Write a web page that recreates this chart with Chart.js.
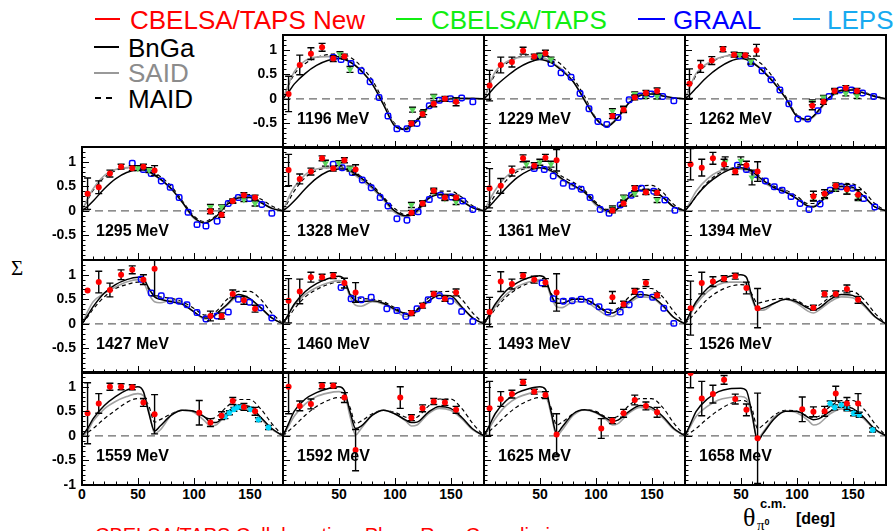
<!DOCTYPE html>
<html><head><meta charset="utf-8">
<script src="https://cdn.jsdelivr.net/npm/chart.js@4/dist/chart.umd.min.js"></script>
<style>
html,body{margin:0;padding:0;background:#fff;width:896px;height:531px;overflow:hidden;position:relative;font-family:"Liberation Sans",Arial,sans-serif}
canvas{position:absolute}
.t{position:absolute;white-space:nowrap;line-height:1}
.ln{position:absolute;height:0}
.xl{position:absolute;width:40px;text-align:center;white-space:nowrap;line-height:1;font-weight:bold;font-size:14px;color:#000}
</style></head><body>
<div class="ln" style="left:95px;top:18px;width:25px;border-top:2.5px solid #ff0000"></div>
<div class="t" style="left:130px;top:7px;font-size:26px;color:#ff0000">CBELSA/TAPS New</div>
<div class="ln" style="left:396px;top:18px;width:26px;border-top:2.5px solid #11ee11"></div>
<div class="t" style="left:431px;top:7px;font-size:26px;color:#11ee11">CBELSA/TAPS</div>
<div class="ln" style="left:638px;top:18px;width:27px;border-top:2.5px solid #0000ff"></div>
<div class="t" style="left:673px;top:7px;font-size:26px;color:#0000ff">GRAAL</div>
<div class="ln" style="left:793px;top:18px;width:27px;border-top:2.5px solid #18aaf0"></div>
<div class="t" style="left:827px;top:7px;font-size:26px;color:#18aaf0">LEPS</div>
<div class="ln" style="left:94px;top:46px;width:25px;border-top:2.5px solid #000"></div>
<div class="t" style="left:128px;top:35px;font-size:26px;color:#000">BnGa</div>
<div class="ln" style="left:94px;top:72px;width:25px;border-top:2.5px solid #999"></div>
<div class="t" style="left:128px;top:60px;font-size:26px;color:#8c8c8c">SAID</div>
<div class="ln" style="left:95px;top:97px;width:6px;border-top:2.5px solid #000"></div>
<div class="ln" style="left:106px;top:97px;width:6px;border-top:2.5px solid #000"></div>
<div class="t" style="left:128px;top:86px;font-size:26px;color:#000">MAID</div>
<div class="t" style="left:11px;top:258px;font-size:21px;font-family:'Liberation Serif',serif">Σ</div>
<div class="t" style="left:743px;top:505px;font-size:26px;font-family:'Liberation Serif',serif">θ</div>
<div class="t" style="left:760px;top:497px;font-size:13px;font-weight:bold">c.m.</div>
<div class="t" style="left:757px;top:518px;font-size:15px;font-family:'Liberation Serif',serif">π<span style="font-size:9px;font-weight:bold;font-family:'Liberation Sans';vertical-align:5px">0</span></div>
<div class="t" style="left:796px;top:511px;font-size:16px;font-weight:bold">[deg]</div>
<div style="position:absolute;left:95px;top:525px;width:600px;height:6px;overflow:hidden"><div class="t" style="left:0;top:0;font-size:20px;color:#ff0000">CBELSA/TAPS Collaboration, Phys. Rev. C, preliminary</div></div>
<script>
const energies = [1196,1229,1262,1295,1328,1361,1394,1427,1460,1493,1526,1559,1592,1625,1658];
const curveAngles = [0,5,10,20,30,40,50,55,60,65,70,80,90,100,110,115,120,130,140,150,160,170,180];
const bnga = [
 [0,0.14,0.3,0.52,0.68,0.78,0.82,0.8,0.75,0.67,0.57,0.3,-0.12,-0.55,-0.62,-0.55,-0.45,-0.17,-0.05,0,0.01,0.01,0],
 [0,0.12,0.25,0.45,0.62,0.74,0.8,0.78,0.74,0.66,0.57,0.35,-0.03,-0.4,-0.57,-0.5,-0.38,-0.08,0.07,0.1,0.06,0.02,0],
 [0,0.1,0.22,0.45,0.63,0.76,0.82,0.8,0.74,0.66,0.56,0.32,0.02,-0.35,-0.42,-0.35,-0.22,0.04,0.17,0.18,0.12,0.05,0],
 [0,0.09,0.2,0.45,0.65,0.78,0.83,0.83,0.8,0.73,0.65,0.45,0.17,-0.13,-0.25,-0.2,-0.12,0.13,0.26,0.27,0.17,0.05,0],
 [0,0.09,0.2,0.45,0.66,0.8,0.85,0.85,0.82,0.75,0.67,0.48,0.25,0,-0.1,-0.08,0,0.25,0.33,0.32,0.2,0.06,0],
 [0,0.1,0.22,0.47,0.68,0.82,0.88,0.86,0.82,0.74,0.65,0.52,0.38,0.15,0,-0.02,0.05,0.28,0.42,0.42,0.28,0.08,0],
 [0,0.14,0.3,0.55,0.72,0.84,0.88,0.85,0.8,0.71,0.62,0.47,0.38,0.25,0.1,0.08,0.15,0.38,0.5,0.48,0.3,0.08,0],
 [0,0.17,0.35,0.63,0.8,0.9,0.95,0.92,0.72,0.55,0.5,0.45,0.4,0.25,0.12,0.12,0.2,0.4,0.6,0.52,0.33,0.12,0],
 [0,0.2,0.4,0.66,0.82,0.92,0.97,0.9,0.6,0.47,0.45,0.47,0.42,0.3,0.2,0.18,0.28,0.46,0.58,0.57,0.35,0.12,0],
 [0,0.2,0.4,0.68,0.84,0.94,0.98,0.92,0.6,0.42,0.42,0.5,0.5,0.38,0.24,0.22,0.28,0.46,0.6,0.56,0.38,0.13,0],
 [0,0.24,0.45,0.72,0.87,0.97,1.0,0.95,0.55,0.3,0.32,0.42,0.5,0.45,0.32,0.28,0.32,0.5,0.6,0.58,0.4,0.15,0],
 [0,0.15,0.35,0.62,0.8,0.93,1.0,0.9,0.45,0.1,0.2,0.42,0.52,0.5,0.38,0.28,0.27,0.48,0.62,0.6,0.38,0.15,0],
 [0,0.25,0.5,0.75,0.88,0.96,1.0,0.92,0.5,0.15,0.2,0.42,0.52,0.45,0.32,0.27,0.28,0.48,0.6,0.56,0.38,0.14,0],
 [0,0.22,0.45,0.72,0.88,0.96,1.0,0.95,0.5,0.05,0.18,0.45,0.53,0.48,0.35,0.3,0.32,0.5,0.62,0.58,0.4,0.15,0],
 [0,0.25,0.5,0.75,0.9,0.96,0.97,0.92,0.45,-0.1,0.05,0.35,0.5,0.5,0.38,0.33,0.35,0.5,0.6,0.56,0.38,0.14,0]
];
const said = [
 [0,0.3,0.55,0.78,0.85,0.86,0.86,0.82,0.76,0.68,0.58,0.3,-0.1,-0.53,-0.63,-0.56,-0.45,-0.17,-0.04,0,0.01,0.01,0],
 [0,0.3,0.55,0.75,0.84,0.86,0.86,0.82,0.76,0.68,0.6,0.35,0,-0.4,-0.55,-0.48,-0.38,-0.08,0.08,0.1,0.06,0.02,0],
 [0,0.28,0.52,0.72,0.83,0.88,0.88,0.83,0.76,0.67,0.57,0.33,0.02,-0.35,-0.44,-0.37,-0.25,0.03,0.16,0.19,0.13,0.05,0],
 [0,0.25,0.45,0.72,0.84,0.88,0.88,0.85,0.8,0.72,0.64,0.44,0.17,-0.15,-0.24,-0.2,-0.12,0.14,0.28,0.29,0.18,0.06,0],
 [0,0.27,0.48,0.74,0.85,0.88,0.88,0.85,0.8,0.72,0.63,0.45,0.22,-0.03,-0.12,-0.09,-0.03,0.24,0.35,0.34,0.22,0.07,0],
 [0,0.22,0.42,0.7,0.84,0.88,0.88,0.85,0.8,0.72,0.63,0.5,0.37,0.12,-0.02,-0.01,0.05,0.3,0.42,0.42,0.28,0.08,0],
 [0,0.2,0.4,0.65,0.8,0.85,0.85,0.81,0.75,0.66,0.58,0.46,0.4,0.26,0.1,0.1,0.15,0.36,0.47,0.45,0.3,0.08,0],
 [0,0.25,0.45,0.62,0.75,0.85,0.9,0.85,0.6,0.45,0.43,0.48,0.42,0.25,0.1,0.12,0.18,0.38,0.55,0.5,0.33,0.12,0],
 [0,0.2,0.38,0.6,0.74,0.83,0.88,0.85,0.55,0.38,0.36,0.45,0.4,0.28,0.15,0.17,0.25,0.45,0.58,0.52,0.33,0.12,0],
 [0,0.18,0.35,0.6,0.76,0.85,0.9,0.86,0.55,0.35,0.33,0.45,0.45,0.32,0.17,0.15,0.22,0.42,0.55,0.53,0.36,0.13,0],
 [0,0.2,0.4,0.65,0.8,0.85,0.85,0.82,0.5,0.28,0.28,0.42,0.5,0.42,0.26,0.22,0.28,0.45,0.55,0.53,0.37,0.14,0],
 [0,0.1,0.3,0.55,0.7,0.8,0.86,0.82,0.5,0.05,0.12,0.42,0.52,0.48,0.3,0.2,0.22,0.45,0.57,0.55,0.35,0.13,0],
 [0,0.2,0.4,0.65,0.8,0.87,0.9,0.85,0.4,0.02,0.15,0.42,0.52,0.45,0.3,0.2,0.22,0.45,0.56,0.52,0.35,0.12,0],
 [0,0.17,0.35,0.62,0.78,0.86,0.9,0.86,0.45,0,0.12,0.42,0.53,0.47,0.32,0.22,0.25,0.47,0.58,0.54,0.37,0.13,0],
 [0,0.2,0.4,0.6,0.73,0.78,0.8,0.76,0.4,-0.05,0.08,0.38,0.5,0.47,0.32,0.22,0.25,0.45,0.55,0.5,0.35,0.12,0]
];
const maid = [
 [0,0.28,0.5,0.72,0.84,0.9,0.92,0.9,0.85,0.77,0.66,0.38,-0.05,-0.5,-0.6,-0.52,-0.42,-0.17,-0.04,0.01,0.01,0.01,0],
 [0,0.27,0.5,0.72,0.84,0.9,0.9,0.88,0.84,0.77,0.68,0.42,0.05,-0.38,-0.55,-0.48,-0.38,-0.07,0.09,0.12,0.07,0.02,0],
 [0,0.26,0.48,0.7,0.82,0.89,0.92,0.9,0.85,0.77,0.68,0.4,0.05,-0.32,-0.42,-0.35,-0.24,0.05,0.18,0.2,0.14,0.06,0],
 [0,0.22,0.42,0.68,0.82,0.88,0.9,0.88,0.85,0.78,0.7,0.5,0.2,-0.1,-0.22,-0.17,-0.1,0.17,0.3,0.33,0.24,0.1,0],
 [0,0.2,0.4,0.68,0.82,0.88,0.9,0.88,0.85,0.78,0.7,0.52,0.28,0.05,-0.08,-0.05,0.03,0.28,0.4,0.4,0.28,0.1,0],
 [0,0.15,0.32,0.62,0.8,0.88,0.9,0.88,0.85,0.78,0.7,0.58,0.42,0.18,0.03,0.03,0.08,0.34,0.5,0.52,0.38,0.13,0],
 [0,0.14,0.3,0.58,0.76,0.86,0.9,0.87,0.82,0.74,0.65,0.5,0.42,0.3,0.15,0.15,0.2,0.42,0.56,0.55,0.4,0.15,0],
 [0,0.14,0.3,0.55,0.72,0.8,0.85,0.82,0.7,0.58,0.55,0.52,0.45,0.32,0.18,0.2,0.25,0.5,0.66,0.66,0.5,0.22,0],
 [0,0.14,0.3,0.55,0.7,0.8,0.85,0.82,0.62,0.55,0.52,0.5,0.45,0.33,0.22,0.24,0.3,0.52,0.65,0.66,0.5,0.22,0],
 [0,0.14,0.3,0.55,0.72,0.83,0.88,0.85,0.62,0.52,0.5,0.52,0.5,0.4,0.28,0.28,0.32,0.55,0.72,0.72,0.55,0.25,0],
 [0,0.12,0.25,0.5,0.66,0.76,0.8,0.78,0.6,0.42,0.45,0.5,0.52,0.48,0.35,0.34,0.38,0.55,0.67,0.66,0.5,0.22,0],
 [0,0.07,0.15,0.35,0.52,0.68,0.76,0.76,0.6,0.28,0.33,0.45,0.52,0.5,0.38,0.35,0.38,0.6,0.74,0.74,0.55,0.25,0],
 [0,0.1,0.2,0.42,0.6,0.72,0.78,0.76,0.58,0.25,0.3,0.45,0.52,0.48,0.38,0.36,0.38,0.6,0.75,0.75,0.56,0.25,0],
 [0,0.1,0.2,0.42,0.6,0.72,0.78,0.76,0.58,0.22,0.28,0.45,0.53,0.5,0.38,0.37,0.4,0.62,0.76,0.76,0.58,0.26,0],
 [0,0.07,0.15,0.35,0.52,0.65,0.72,0.7,0.55,0.15,0.22,0.42,0.52,0.5,0.4,0.38,0.4,0.6,0.72,0.72,0.55,0.25,0]
];
// [angle, Sigma, error]
const newData = [
 [[5,0.1,0.36],[15,0.69,0.2],[25,0.92,0.12],[35,1.05,0.08],[45,0.82,0.06],[55,0.86,0.05],[115,-0.5,0.05],[125,-0.31,0.06],[135,-0.1,0.06],[145,0.0,0.05],[155,-0.06,0.08]],
 [[5,0.27,0.31],[15,0.69,0.16],[25,0.75,0.1],[35,0.98,0.07],[45,0.86,0.05],[55,0.93,0.06],[115,-0.35,0.05],[125,-0.22,0.06],[135,0.03,0.05],[145,0.12,0.05],[155,0.16,0.06]],
 [[4,0.31,0.3],[14,0.66,0.12],[24,0.78,0.08],[34,1.01,0.05],[44,0.9,0.05],[54,0.89,0.04],[64,0.99,0.12],[114,-0.14,0.08],[124,-0.06,0.05],[134,0.16,0.05],[144,0.22,0.05],[154,0.16,0.05]],
 [[5,0.35,0.32],[15,0.48,0.13],[25,0.76,0.07],[35,0.9,0.05],[45,0.87,0.05],[55,0.9,0.05],[65,0.82,0.1],[115,-0.01,0.05],[125,-0.08,0.05],[135,0.2,0.04],[145,0.32,0.05],[155,0.27,0.05]],
 [[5,0.83,0.32],[15,0.65,0.1],[25,0.8,0.07],[35,1.07,0.05],[45,0.86,0.05],[55,1.03,0.05],[65,0.84,0.1],[115,-0.04,0.05],[125,0.15,0.05],[135,0.41,0.05],[145,0.27,0.05],[155,0.27,0.05]],
 [[5,0.46,0.4],[15,0.51,0.15],[25,0.81,0.1],[35,1.07,0.07],[45,0.92,0.06],[55,1.08,0.07],[65,1.03,0.22],[115,0.01,0.05],[125,0.15,0.05],[135,0.46,0.05],[145,0.38,0.05],[155,0.37,0.05]],
 [[5,0.95,0.32],[15,0.88,0.17],[25,1.07,0.12],[35,0.95,0.1],[45,0.8,0.06],[55,0.93,0.08],[65,0.8,0.2],[115,0.3,0.1],[125,0.35,0.08],[135,0.51,0.06],[145,0.44,0.1],[155,0.33,0.1]],
 [[5,0.68,0],[15,0.85,0.22],[25,0.69,0.14],[35,1.0,0.1],[45,1.1,0.08],[55,0.9,0.1],[65,1.12,0.55],[115,0.16,0.1],[125,0.16,0.06],[135,0.61,0.08],[145,0.48,0.08],[155,0.31,0.07]],
 [[5,0.47,0.45],[15,0.66,0.25],[25,0.95,0.1],[35,0.95,0.06],[45,0.98,0.06],[55,0.83,0.1],[65,0.64,0.2],[115,0.22,0.05],[125,0.37,0.05],[135,0.61,0.05],[145,0.51,0.05],[155,0.64,0.07]],
 [[5,0.24,0.3],[15,0.86,0.2],[25,0.81,0.1],[35,0.98,0.06],[45,0.9,0.07],[55,0.84,0.08],[65,0.64,0.38],[115,0.54,0.12],[125,0.4,0.06],[135,0.66,0.06],[145,0.83,0.07],[155,0.58,0.05]],
 [[5,0.32,0.55],[15,0.83,0.22],[25,0.86,0.1],[35,0.92,0.06],[45,0.97,0.06],[55,0.73,0.12],[65,0.32,0.4],[115,0.33,0.05],[125,0.61,0.06],[135,0.61,0.06],[145,0.71,0.08],[155,0.49,0.07]],
 [[5,0.46,0.62],[15,0.66,0.2],[25,1.0,0.07],[35,1.0,0.06],[45,0.99,0.05],[55,0.68,0.08],[65,0.44,0.4],[105,0.47,0.25],[115,0.27,0.08],[125,0.41,0.08],[135,0.71,0.07],[145,0.59,0.07],[155,0.5,0.08]],
 [[5,1.0,0.55],[15,0.61,0.1],[25,0.65,0.1],[35,1.02,0.06],[45,1.02,0.05],[55,0.78,0.1],[65,-0.29,0.42],[105,0.78,0.22],[115,0.37,0.06],[125,0.56,0.07],[135,0.7,0.06],[145,0.68,0.06],[155,0.53,0.07]],
 [[5,0.56,0.55],[15,0.75,0.15],[25,0.85,0.08],[35,1.09,0.06],[45,0.9,0.05],[55,0.83,0.07],[65,0.03,0.42],[105,0.15,0.2],[115,0.31,0.06],[125,0.46,0.08],[135,0.73,0.1],[145,0.61,0.08],[155,0.48,0.1]],
 [[5,1.28,0.3],[15,0.76,0.35],[25,0.85,0.18],[35,1.14,0.09],[45,0.75,0.1],[55,0.53,0.12],[65,-0.05,0.92],[105,0.54,0.25],[115,0.49,0.1],[125,0.5,0.1],[135,0.86,0.15],[145,0.66,0.12],[155,0.66,0.2]]
];
const oldData = [
 [[51,0.91,0.05],[60,0.6,0.06],[116,-0.22,0.05],[126,-0.27,0.05],[135,0.05,0.04],[155,-0.03,0.05]],
 [[50,0.88,0.05],[60,0.8,0.05],[115,-0.25,0.05],[125,-0.2,0.05],[135,0.1,0.04],[145,0.06,0.05],[155,0.05,0.05]],
 [[49,0.9,0.04],[59,0.76,0.05],[114,-0.07,0.05],[124,0.03,0.04],[134,0.15,0.04],[144,0.11,0.05],[154,0.06,0.05]],
 [[50,0.87,0.05],[60,0.83,0.05],[115,0.08,0.05],[125,0.08,0.04],[135,0.2,0.04],[145,0.23,0.04],[155,0.15,0.05]],
 [[38,0.97,0.06],[50,0.97,0.05],[60,0.86,0.05],[115,0.12,0.05],[125,0.16,0.04],[135,0.39,0.04],[145,0.25,0.04],[155,0.18,0.05]],
 [[38,0.95,0.06],[50,0.99,0.06],[60,0.95,0.06],[115,0.05,0.05],[125,0.27,0.05],[135,0.35,0.05],[145,0.39,0.05],[155,0.22,0.05]],
 [[36,1.0,0.1],[50,1.02,0.08],[60,0.68,0.15],[115,0.27,0.06],[125,0.31,0.06],[135,0.46,0.06],[145,0.4,0.06],[155,0.27,0.06]],
 [],[],[],[],[],[],[],[]
];
const graal = [
 [[45,0.84],[52,0.8],[61,0.72],[70,0.57],[78,0.35],[86,0.03],[94,-0.35],[102,-0.61],[111,-0.61],[120,-0.5],[131,-0.14],[140,-0.03],[150,0.0],[160,0.02],[170,-0.06]],
 [[50,0.87],[60,0.72],[69,0.53],[78,0.44],[86,0.11],[94,-0.2],[102,-0.46],[110,-0.52],[120,-0.38],[130,-0.02],[140,0.06],[150,0.1],[160,0.05],[170,-0.04]],
 [[49,0.88],[59,0.72],[69,0.57],[77,0.39],[85,0.18],[93,-0.1],[101,-0.41],[110,-0.41],[119,-0.24],[129,0.05],[139,0.18],[149,0.18],[159,0.12],[169,0.05]],
 [[45,0.97],[55,0.84],[62,0.76],[71,0.61],[79,0.48],[87,0.27],[95,-0.03],[103,-0.28],[111,-0.31],[121,-0.21],[131,0.15],[140,0.27],[150,0.25],[161,0.13],[170,-0.05]],
 [[45,0.95],[53,0.88],[62,0.78],[71,0.63],[79,0.47],[87,0.27],[94,0.1],[102,-0.16],[111,-0.19],[121,-0.02],[131,0.23],[141,0.32],[151,0.28],[161,0.2],[170,0.03]],
 [[45,0.86],[54,0.84],[62,0.71],[71,0.56],[79,0.5],[87,0.44],[95,0.27],[104,0.03],[112,-0.05],[122,0.12],[132,0.32],[141,0.46],[152,0.4],[162,0.22],[171,0.01]],
 [[47,0.93],[55,0.84],[63,0.74],[72,0.61],[80,0.49],[87,0.42],[95,0.29],[103,0.15],[111,0.03],[121,0.14],[130,0.42],[140,0.49],[150,0.46],[160,0.25],[170,0.08]],
 [[53,0.91],[62,0.63],[71,0.57],[79,0.47],[87,0.46],[94,0.39],[103,0.23],[111,0.1],[121,0.16],[131,0.24],[140,0.5],[150,0.44],[160,0.33],[170,0.12]],
 [[52,0.74],[61,0.51],[70,0.49],[79,0.54],[93,0.31],[102,0.27],[110,0.15],[120,0.31],[130,0.49],[140,0.57],[150,0.46],[160,0.25],[170,0.05]],
 [[52,0.83],[62,0.51],[71,0.46],[79,0.47],[87,0.5],[95,0.46],[103,0.35],[111,0.24],[122,0.24],[130,0.39],[140,0.6],[151,0.54],[161,0.32],[170,0.01]],
 [],[],[],[],[]
];
const leps = [
 [],[],[],[],[],[],[],[],[],[],[],
 [[128,0.39,0.04],[132,0.47,0.04],[136,0.54,0.04],[139,0.58,0.04],[143,0.59,0.04],[151,0.54,0.04],[158,0.33,0.04],[167,0.17,0.04]],
 [],[],
 [[130,0.66,0.05],[134,0.58,0.05],[140,0.63,0.05],[145,0.56,0.05],[151,0.46,0.05],[156,0.43,0.05],[168,0.12,0.04]]
];
const yTickValues = [1,0.5,0,-0.5,-1];
const yTickLabels = ['1','0.5','0','-0.5','-1'];
const xTickValues = [0,50,100,150];
const xTickLabels = ['0','50','100','150'];

const colLeft = [82,283,484,685], rowTop = [35,147,260,372], PW = 201, PH = 113;

const framePlugin = {
  id:'frame',
  beforeDatasetDraw(chart,args){
    const ds = chart.data.datasets[args.index];
    if(!ds.errs) return;
    const {ctx, chartArea:a, scales:{x,y}} = chart;
    ctx.save(); ctx.beginPath(); ctx.rect(a.left,a.top,a.right-a.left,a.bottom-a.top); ctx.clip();
    ctx.strokeStyle = '#000'; ctx.lineWidth = 1.4;
    ds.data.forEach((p,i)=>{
      const e = ds.errs[i]; if(!e) return;
      const px = x.getPixelForValue(p.x), y1 = y.getPixelForValue(p.y+e), y2 = y.getPixelForValue(p.y-e);
      ctx.beginPath(); ctx.moveTo(px,y1); ctx.lineTo(px,y2);
      ctx.moveTo(px-3.5,y1); ctx.lineTo(px+3.5,y1); ctx.moveTo(px-3.5,y2); ctx.lineTo(px+3.5,y2); ctx.stroke();
    });
    ctx.restore();
  },
  afterDraw(chart){
    const o = chart.options.plugins.frame;
    const {ctx, chartArea:a, scales:{x,y}} = chart;
    ctx.save();
    ctx.strokeStyle='#000'; ctx.lineWidth=1;
    for(let k=-10;k<=13;k++){
      const py = Math.round(y.getPixelForValue(k/10))+0.5;
      const L = (k%5===0)?7:3.5;
      ctx.beginPath(); ctx.moveTo(a.left,py); ctx.lineTo(a.left+L,py); ctx.stroke();
    }
    for(let d=0; d<=180; d+=10){
      const px = Math.round(x.getPixelForValue(d))+0.5;
      const L = (d%50===0)?7:3.5;
      ctx.beginPath(); ctx.moveTo(px,a.bottom); ctx.lineTo(px,a.bottom-L); ctx.stroke();
    }
    ctx.lineWidth=2;
    ctx.strokeRect(a.left,a.top,a.right-a.left,a.bottom-a.top);
    ctx.fillStyle='#000';
    ctx.font='bold 16px "Liberation Sans", Arial, sans-serif';
    ctx.textBaseline='middle'; ctx.textAlign='left';
    ctx.fillText(o.label, a.left+14, y.getPixelForValue(-0.42));
    ctx.font='bold 14px "Liberation Sans", Arial, sans-serif';
    if(o.yl){
      ctx.textAlign='right';
      yTickValues.forEach((v,i)=>{ if(v===-1 && !o.yMin) return; ctx.fillText(yTickLabels[i], a.left-6, y.getPixelForValue(v)); });
    }
    ctx.restore();
  }
};

const pts = arr => arr.map(p=>({x:p[0], y:p[1]}));
const curve = vals => curveAngles.map((a,i)=>({x:a, y:vals[i]}));
const labelJobs = [];

energies.forEach((E,i)=>{
  const slot = i+1, r = Math.floor(slot/4), c = slot%4;
  const yl = (c===0||i===0), yMin = (r===3&&c===0);
  const PAD = {left: yl?50:2, right:2, top:2, bottom: yMin?10:2};
  const cv = document.createElement('canvas');
  const W = PW+PAD.left+PAD.right, H = PH+PAD.top+PAD.bottom;
  const cl = colLeft[c]-PAD.left, ct = rowTop[r]-PAD.top;
  cv.width = W; cv.height = H;
  cv.style.left = cl+'px'; cv.style.top = ct+'px';
  cv.style.width = W+'px'; cv.style.height = H+'px';
  document.body.appendChild(cv);
  const line = {type:'line', pointRadius:0, showLine:true, cubicInterpolationMode:'monotone', fill:false};
  const chart = new Chart(cv, {
    type:'scatter',
    data:{datasets:[
      {type:'line', data:[{x:0,y:0},{x:180,y:0}], borderColor:'#6a6a6a', borderWidth:1.4, borderDash:[8,5], pointRadius:0, showLine:true, order:7},
      Object.assign({}, line, {data:curve(maid[i]), borderColor:'#000', borderWidth:1.2, borderDash:[4,3], order:6}),
      Object.assign({}, line, {data:curve(said[i]), borderColor:'#a0a0a0', borderWidth:1.6, order:5}),
      Object.assign({}, line, {data:curve(bnga[i]), borderColor:'#000', borderWidth:1.5, order:4}),
      {data:pts(graal[i]), pointStyle:'rectRounded', pointRadius:3.2, borderColor:'#0000ff', borderWidth:1.5, backgroundColor:'rgba(255,255,255,0)', order:3},
      {data:pts(oldData[i]), errs:oldData[i].map(p=>p[2]), pointStyle:'triangle', rotation:180, pointRadius:4, backgroundColor:'#5cd65c', borderColor:'#5cd65c', borderWidth:0, order:2},
      {data:pts(leps[i]), errs:leps[i].map(p=>p[2]), pointStyle:'star', pointRadius:3, borderColor:'#00d8ff', backgroundColor:'#00d8ff', borderWidth:1.5, order:1},
      {data:pts(newData[i]), errs:newData[i].map(p=>p[2]), pointStyle:'circle', pointRadius:3, backgroundColor:'#ff0000', borderColor:'#ff0000', borderWidth:0, order:0}
    ]},
    options:{
      responsive:false, animation:false, devicePixelRatio:1,
      layout:{padding:PAD, autoPadding:false},
      scales:{x:{type:'linear', min:0, max:180, display:false}, y:{type:'linear', min:-1, max:1.3, display:false}},
      plugins:{legend:{display:false}, tooltip:{enabled:false},
        frame:{label:E+' MeV', yl:yl, yMin:yMin}}
    },
    plugins:[framePlugin]
  });
  if(r===3){
    const xs = chart.scales.x;
    xTickValues.forEach((v,k)=>{
      if(v===0 && c!==0) return;
      labelJobs.push({text:xTickLabels[k], left:Math.round(cl + xs.getPixelForValue(v) - 20), top:rowTop[3] + PH + 2});
    });
  }
});
labelJobs.forEach(j=>{
  const d = document.createElement('div');
  d.className = 'xl';
  d.textContent = j.text;
  d.style.left = j.left+'px';
  d.style.top = j.top+'px';
  document.body.insertBefore(d, document.body.firstChild);
});
</script>
</body></html>
